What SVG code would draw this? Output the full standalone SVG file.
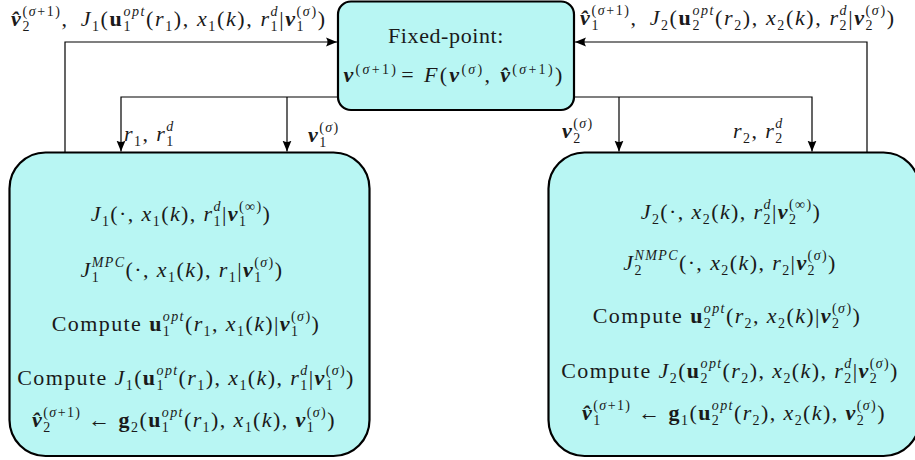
<svg xmlns="http://www.w3.org/2000/svg" width="915" height="460" viewBox="0 0 915 460">
<defs>
<style>
.box{fill:#b8f6f3;stroke:#000;stroke-width:2.2}
.ln{fill:none;stroke:#000;stroke-width:1.2}
.t{font-family:"Liberation Serif","Times New Roman",serif;font-size:22px;letter-spacing:1.4px;fill:#1a1a1a}
.top{letter-spacing:1.6px}
.i{font-style:italic}
.b{font-weight:bold}
.bi{font-weight:bold;font-style:italic}
.s{font-size:14px}
</style>
<marker id="ah" markerUnits="userSpaceOnUse" markerWidth="12" markerHeight="10" refX="11" refY="5" orient="auto">
<path d="M0,0.5 L11,5 L0,9.5 Q3,5 0,0.5 Z" fill="#000"/>
</marker>
</defs>
<rect width="915" height="460" fill="#fff"/>
<g id="connectors">
<path class="ln" d="M65,152 V42 H337" marker-end="url(#ah)"/>
<path class="ln" d="M867,152 V42 H575" marker-end="url(#ah)"/>
<path class="ln" d="M338,97 H121 V151.5" marker-end="url(#ah)"/>
<path class="ln" d="M287,97 V151.5" marker-end="url(#ah)"/>
<path class="ln" d="M574,97 H812 V151.5" marker-end="url(#ah)"/>
<path class="ln" d="M619,97 V151.5" marker-end="url(#ah)"/>
<text class="t top" x="11" y="26"><tspan class="bi">v̂</tspan><tspan class="s" dy="5">2</tspan><tspan class="s" dx="-8.6" dy="-15.5">(<tspan class="i">σ</tspan>+1)</tspan><tspan dy="10.5">,</tspan><tspan class="i" dx="12">J</tspan><tspan class="s" dy="5">1</tspan><tspan dy="-5">(</tspan><tspan class="b">u</tspan><tspan class="s" dy="5">1</tspan><tspan class="s i" dx="-8.6" dy="-15.5">opt</tspan><tspan dy="10.5">(</tspan><tspan class="i">r</tspan><tspan class="s" dy="5">1</tspan><tspan dy="-5">), </tspan><tspan class="i">x</tspan><tspan class="s" dy="5">1</tspan><tspan dy="-5">(</tspan><tspan class="i">k</tspan><tspan>), </tspan><tspan class="i">r</tspan><tspan class="s" dy="5">1</tspan><tspan class="s i" dx="-8.6" dy="-15.5">d</tspan><tspan dy="10.5">|</tspan><tspan class="bi">v</tspan><tspan class="s" dy="5">1</tspan><tspan class="s" dx="-8.6" dy="-15.5">(<tspan class="i">σ</tspan>)</tspan><tspan dy="10.5">)</tspan></text>
<text class="t top" x="580" y="25"><tspan class="bi">v̂</tspan><tspan class="s" dy="5">1</tspan><tspan class="s" dx="-8.6" dy="-15.5">(<tspan class="i">σ</tspan>+1)</tspan><tspan dy="10.5">,</tspan><tspan class="i" dx="12">J</tspan><tspan class="s" dy="5">2</tspan><tspan dy="-5">(</tspan><tspan class="b">u</tspan><tspan class="s" dy="5">2</tspan><tspan class="s i" dx="-8.6" dy="-15.5">opt</tspan><tspan dy="10.5">(</tspan><tspan class="i">r</tspan><tspan class="s" dy="5">2</tspan><tspan dy="-5">), </tspan><tspan class="i">x</tspan><tspan class="s" dy="5">2</tspan><tspan dy="-5">(</tspan><tspan class="i">k</tspan><tspan>), </tspan><tspan class="i">r</tspan><tspan class="s" dy="5">2</tspan><tspan class="s i" dx="-8.6" dy="-15.5">d</tspan><tspan dy="10.5">|</tspan><tspan class="bi">v</tspan><tspan class="s" dy="5">2</tspan><tspan class="s" dx="-8.6" dy="-15.5">(<tspan class="i">σ</tspan>)</tspan><tspan dy="10.5">)</tspan></text>
<text class="t" x="124" y="141"><tspan class="i">r</tspan><tspan class="s" dy="5">1</tspan><tspan dy="-5">, </tspan><tspan class="i">r</tspan><tspan class="s" dy="5">1</tspan><tspan class="s i" dx="-8.4" dy="-15.5">d</tspan></text>
<text class="t" x="308" y="142"><tspan class="bi">v</tspan><tspan class="s" dy="5">1</tspan><tspan class="s" dx="-8.4" dy="-15.5">(<tspan class="i">σ</tspan>)</tspan></text>
<text class="t" x="562" y="138"><tspan class="bi">v</tspan><tspan class="s" dy="5">2</tspan><tspan class="s" dx="-8.4" dy="-15.5">(<tspan class="i">σ</tspan>)</tspan></text>
<text class="t" x="733" y="138"><tspan class="i">r</tspan><tspan class="s" dy="5">2</tspan><tspan dy="-5">, </tspan><tspan class="i">r</tspan><tspan class="s" dy="5">2</tspan><tspan class="s i" dx="-8.4" dy="-15.5">d</tspan></text>
</g>
<g id="fixed-point">
<rect class="box" x="338" y="1.5" width="236" height="108.5" rx="13"/>
<text class="t" x="446" y="43" text-anchor="middle" style="letter-spacing:0.6px">Fixed-point:</text>
<text class="t" x="454" y="82" text-anchor="middle" style="letter-spacing:2.3px"><tspan class="bi">v</tspan><tspan class="s" dy="-8">(<tspan class="i">σ</tspan>+1)</tspan><tspan dy="8" dx="3">=</tspan><tspan class="i" dx="8">F</tspan><tspan>(</tspan><tspan class="bi">v</tspan><tspan class="s" dy="-8">(<tspan class="i">σ</tspan>)</tspan><tspan dy="8">, </tspan><tspan class="bi">v̂</tspan><tspan class="s" dy="-8">(<tspan class="i">σ</tspan>+1)</tspan><tspan dy="8">)</tspan></text>
</g>
<g id="agent1">
<rect class="box" x="9.5" y="152.5" width="360" height="303.5" rx="36"/>
<text class="t" x="181" y="221" text-anchor="middle"><tspan class="i">J</tspan><tspan class="s" dy="5">1</tspan><tspan dy="-5">(·, </tspan><tspan class="i">x</tspan><tspan class="s" dy="5">1</tspan><tspan dy="-5">(</tspan><tspan class="i">k</tspan><tspan>), </tspan><tspan class="i">r</tspan><tspan class="s" dy="5">1</tspan><tspan class="s i" dx="-8.4" dy="-15.5">d</tspan><tspan dy="10.5">|</tspan><tspan class="bi">v</tspan><tspan class="s" dy="5">1</tspan><tspan class="s" dx="-8.4" dy="-15.5">(∞)</tspan><tspan dy="10.5">)</tspan></text>
<text class="t" x="182" y="277" text-anchor="middle"><tspan class="i">J</tspan><tspan class="s" dy="5">1</tspan><tspan class="s i" dx="-8.4" dy="-15.5">MPC</tspan><tspan dy="10.5">(·, </tspan><tspan class="i">x</tspan><tspan class="s" dy="5">1</tspan><tspan dy="-5">(</tspan><tspan class="i">k</tspan><tspan>), </tspan><tspan class="i">r</tspan><tspan class="s" dy="5">1</tspan><tspan dy="-5">|</tspan><tspan class="bi">v</tspan><tspan class="s" dy="5">1</tspan><tspan class="s" dx="-8.4" dy="-15.5">(<tspan class="i">σ</tspan>)</tspan><tspan dy="10.5">)</tspan></text>
<text class="t" x="186" y="331" text-anchor="middle"><tspan>Compute </tspan><tspan class="b">u</tspan><tspan class="s" dy="5">1</tspan><tspan class="s i" dx="-8.4" dy="-15.5">opt</tspan><tspan dy="10.5">(</tspan><tspan class="i">r</tspan><tspan class="s" dy="5">1</tspan><tspan dy="-5">, </tspan><tspan class="i">x</tspan><tspan class="s" dy="5">1</tspan><tspan dy="-5">(</tspan><tspan class="i">k</tspan><tspan>)|</tspan><tspan class="bi">v</tspan><tspan class="s" dy="5">1</tspan><tspan class="s" dx="-8.4" dy="-15.5">(<tspan class="i">σ</tspan>)</tspan><tspan dy="10.5">)</tspan></text>
<text class="t" x="186" y="385" text-anchor="middle"><tspan>Compute </tspan><tspan class="i">J</tspan><tspan class="s" dy="5">1</tspan><tspan dy="-5">(</tspan><tspan class="b">u</tspan><tspan class="s" dy="5">1</tspan><tspan class="s i" dx="-8.4" dy="-15.5">opt</tspan><tspan dy="10.5">(</tspan><tspan class="i">r</tspan><tspan class="s" dy="5">1</tspan><tspan dy="-5">), </tspan><tspan class="i">x</tspan><tspan class="s" dy="5">1</tspan><tspan dy="-5">(</tspan><tspan class="i">k</tspan><tspan>), </tspan><tspan class="i">r</tspan><tspan class="s" dy="5">1</tspan><tspan class="s i" dx="-8.4" dy="-15.5">d</tspan><tspan dy="10.5">|</tspan><tspan class="bi">v</tspan><tspan class="s" dy="5">1</tspan><tspan class="s" dx="-8.4" dy="-15.5">(<tspan class="i">σ</tspan>)</tspan><tspan dy="10.5">)</tspan></text>
<text class="t" x="184" y="427" text-anchor="middle"><tspan class="bi">v̂</tspan><tspan class="s" dy="5">2</tspan><tspan class="s" dx="-8.4" dy="-15.5">(<tspan class="i">σ</tspan>+1)</tspan><tspan dy="10.5"> ← </tspan><tspan class="b">g</tspan><tspan class="s" dy="5">2</tspan><tspan dy="-5">(</tspan><tspan class="b">u</tspan><tspan class="s" dy="5">1</tspan><tspan class="s i" dx="-8.4" dy="-15.5">opt</tspan><tspan dy="10.5">(</tspan><tspan class="i">r</tspan><tspan class="s" dy="5">1</tspan><tspan dy="-5">), </tspan><tspan class="i">x</tspan><tspan class="s" dy="5">1</tspan><tspan dy="-5">(</tspan><tspan class="i">k</tspan><tspan>), </tspan><tspan class="bi">v</tspan><tspan class="s" dy="5">1</tspan><tspan class="s" dx="-8.4" dy="-15.5">(<tspan class="i">σ</tspan>)</tspan><tspan dy="10.5">)</tspan></text>
</g>
<g id="agent2">
<rect class="box" x="548.5" y="152.5" width="371" height="303.5" rx="36"/>
<text class="t" x="731" y="219" text-anchor="middle"><tspan class="i">J</tspan><tspan class="s" dy="5">2</tspan><tspan dy="-5">(·, </tspan><tspan class="i">x</tspan><tspan class="s" dy="5">2</tspan><tspan dy="-5">(</tspan><tspan class="i">k</tspan><tspan>), </tspan><tspan class="i">r</tspan><tspan class="s" dy="5">2</tspan><tspan class="s i" dx="-8.4" dy="-15.5">d</tspan><tspan dy="10.5">|</tspan><tspan class="bi">v</tspan><tspan class="s" dy="5">2</tspan><tspan class="s" dx="-8.4" dy="-15.5">(∞)</tspan><tspan dy="10.5">)</tspan></text>
<text class="t" x="730" y="270" text-anchor="middle"><tspan class="i">J</tspan><tspan class="s" dy="5">2</tspan><tspan class="s i" dx="-8.4" dy="-15.5">NMPC</tspan><tspan dy="10.5">(·, </tspan><tspan class="i">x</tspan><tspan class="s" dy="5">2</tspan><tspan dy="-5">(</tspan><tspan class="i">k</tspan><tspan>), </tspan><tspan class="i">r</tspan><tspan class="s" dy="5">2</tspan><tspan dy="-5">|</tspan><tspan class="bi">v</tspan><tspan class="s" dy="5">2</tspan><tspan class="s" dx="-8.4" dy="-15.5">(<tspan class="i">σ</tspan>)</tspan><tspan dy="10.5">)</tspan></text>
<text class="t" x="727" y="323" text-anchor="middle"><tspan>Compute </tspan><tspan class="b">u</tspan><tspan class="s" dy="5">2</tspan><tspan class="s i" dx="-8.4" dy="-15.5">opt</tspan><tspan dy="10.5">(</tspan><tspan class="i">r</tspan><tspan class="s" dy="5">2</tspan><tspan dy="-5">, </tspan><tspan class="i">x</tspan><tspan class="s" dy="5">2</tspan><tspan dy="-5">(</tspan><tspan class="i">k</tspan><tspan>)|</tspan><tspan class="bi">v</tspan><tspan class="s" dy="5">2</tspan><tspan class="s" dx="-8.4" dy="-15.5">(<tspan class="i">σ</tspan>)</tspan><tspan dy="10.5">)</tspan></text>
<text class="t" x="730" y="378" text-anchor="middle"><tspan>Compute </tspan><tspan class="i">J</tspan><tspan class="s" dy="5">2</tspan><tspan dy="-5">(</tspan><tspan class="b">u</tspan><tspan class="s" dy="5">2</tspan><tspan class="s i" dx="-8.4" dy="-15.5">opt</tspan><tspan dy="10.5">(</tspan><tspan class="i">r</tspan><tspan class="s" dy="5">2</tspan><tspan dy="-5">), </tspan><tspan class="i">x</tspan><tspan class="s" dy="5">2</tspan><tspan dy="-5">(</tspan><tspan class="i">k</tspan><tspan>), </tspan><tspan class="i">r</tspan><tspan class="s" dy="5">2</tspan><tspan class="s i" dx="-8.4" dy="-15.5">d</tspan><tspan dy="10.5">|</tspan><tspan class="bi">v</tspan><tspan class="s" dy="5">2</tspan><tspan class="s" dx="-8.4" dy="-15.5">(<tspan class="i">σ</tspan>)</tspan><tspan dy="10.5">)</tspan></text>
<text class="t" x="734" y="420" text-anchor="middle"><tspan class="bi">v̂</tspan><tspan class="s" dy="5">1</tspan><tspan class="s" dx="-8.4" dy="-15.5">(<tspan class="i">σ</tspan>+1)</tspan><tspan dy="10.5"> ← </tspan><tspan class="b">g</tspan><tspan class="s" dy="5">1</tspan><tspan dy="-5">(</tspan><tspan class="b">u</tspan><tspan class="s" dy="5">2</tspan><tspan class="s i" dx="-8.4" dy="-15.5">opt</tspan><tspan dy="10.5">(</tspan><tspan class="i">r</tspan><tspan class="s" dy="5">2</tspan><tspan dy="-5">), </tspan><tspan class="i">x</tspan><tspan class="s" dy="5">2</tspan><tspan dy="-5">(</tspan><tspan class="i">k</tspan><tspan>), </tspan><tspan class="bi">v</tspan><tspan class="s" dy="5">2</tspan><tspan class="s" dx="-8.4" dy="-15.5">(<tspan class="i">σ</tspan>)</tspan><tspan dy="10.5">)</tspan></text>
</g>
</svg>
